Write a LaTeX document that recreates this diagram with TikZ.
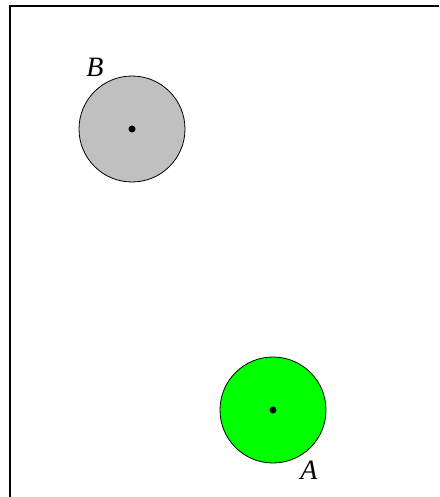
\documentclass[tikz,border=0pt]{standalone}
\usepackage{fontspec}
\setmainfont{Liberation Serif}
\begin{document}
\begin{tikzpicture}[x=1pt,y=-1pt,
  disc/.style={circle,draw=black,line width=0.8pt,minimum size=106pt,inner sep=0pt},
  centre/.style={circle,fill=black,minimum size=7pt,inner sep=0pt},
  lbl/.style={font=\fontsize{28}{32}\selectfont\itshape,inner sep=0pt}]
\useasboundingbox (0,0) rectangle (439,497);
\coordinate (tl) at (10,6);
\coordinate (tr) at (439,6);
\coordinate (bl) at (10,497);
\draw[line width=1.4pt] (bl) -- (tl) -- (tr);
\node[disc,fill={rgb,255:red,192;green,192;blue,192}] (B) at (132,129) {};
\node[centre] (Bc) at (B.center) {};
\node[disc,fill={rgb,255:red,0;green,255;blue,0}] (A) at (273,410) {};
\node[centre] (Ac) at (A.center) {};
\node[lbl] (Bl) at (95,67) {B};
\node[lbl] (Al) at (309,470) {A};
\end{tikzpicture}
\end{document}
